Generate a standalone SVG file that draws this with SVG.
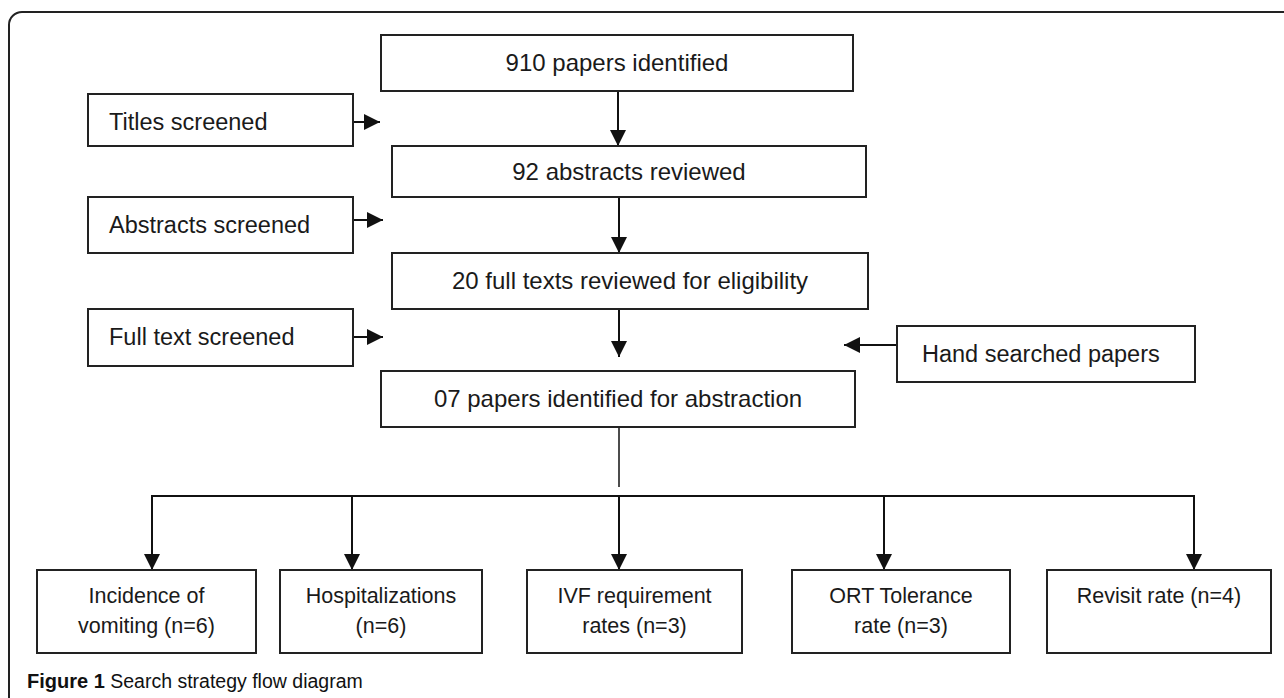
<svg xmlns="http://www.w3.org/2000/svg" width="1284" height="698" viewBox="0 0 1284 698">
<style>
.box{fill:#fff;stroke:#222;stroke-width:2}
.t{font-family:"Liberation Sans",Arial,sans-serif;fill:#1a1a1a}
.c{text-anchor:middle}
.ln{stroke:#111;stroke-width:2;fill:none}
.cap{font-family:"Liberation Sans",Arial,sans-serif;fill:#111}
</style>
<defs>
<marker id="ahb" viewBox="0 0 10 10" refX="10" refY="5" markerWidth="16" markerHeight="16" markerUnits="userSpaceOnUse" orient="auto">
<path d="M0,0 L10,5 L0,10 z" fill="#111"/>
</marker>
</defs>
<rect width="1284" height="698" fill="#fff"/>
<path d="M9,698 V25 A13,13 0 0 1 22,12 H1284" fill="none" stroke="#222" stroke-width="2"/>

<g id="connectors">
<line class="ln" x1="618" y1="91" x2="618" y2="146" marker-end="url(#ahb)"/>
<line class="ln" x1="619" y1="197" x2="619" y2="253" marker-end="url(#ahb)"/>
<line class="ln" x1="619" y1="309" x2="619" y2="357" marker-end="url(#ahb)"/>
<line class="ln" x1="353" y1="122" x2="380" y2="122" marker-end="url(#ahb)"/>
<line class="ln" x1="353" y1="220" x2="383" y2="220" marker-end="url(#ahb)"/>
<line class="ln" x1="353" y1="337" x2="383" y2="337" marker-end="url(#ahb)"/>
<line class="ln" x1="897" y1="345" x2="844" y2="345" marker-end="url(#ahb)"/>
<line x1="619" y1="427" x2="619" y2="487" stroke="#111" stroke-width="1.5"/>
<polyline class="ln" points="152,570 152,496 1194,496 1194,570" marker-end="url(#ahb)"/>
<line class="ln" x1="152" y1="496" x2="152" y2="570" marker-end="url(#ahb)"/>
<line class="ln" x1="352" y1="496" x2="352" y2="570" marker-end="url(#ahb)"/>
<line class="ln" x1="619" y1="496" x2="619" y2="570" marker-end="url(#ahb)"/>
<line class="ln" x1="884" y1="496" x2="884" y2="570" marker-end="url(#ahb)"/>
</g>

<g id="n910">
<rect class="box" x="381" y="35" width="472" height="56"/>
<text class="t c" x="617" y="71" font-size="24">910 papers identified</text>
</g>
<g id="n92">
<rect class="box" x="392" y="146" width="474" height="51"/>
<text class="t c" x="629" y="180" font-size="24">92 abstracts reviewed</text>
</g>
<g id="n20">
<rect class="box" x="392" y="253" width="476" height="56"/>
<text class="t c" x="630" y="289" font-size="24">20 full texts reviewed for eligibility</text>
</g>
<g id="n07">
<rect class="box" x="381" y="371" width="474" height="56"/>
<text class="t c" x="618" y="407" font-size="24">07 papers identified for abstraction</text>
</g>
<g id="titles">
<rect class="box" x="88" y="94" width="265" height="52"/>
<text class="t" x="109" y="130" font-size="23.5">Titles screened</text>
</g>
<g id="abstracts">
<rect class="box" x="88" y="197" width="265" height="56"/>
<text class="t" x="109" y="233" font-size="23.5">Abstracts screened</text>
</g>
<g id="fulltext">
<rect class="box" x="88" y="309" width="265" height="57"/>
<text class="t" x="109" y="345" font-size="23.5">Full text screened</text>
</g>
<g id="hand">
<rect class="box" x="897" y="326" width="298" height="56"/>
<text class="t" x="922" y="362" font-size="23.5">Hand searched papers</text>
</g>
<g id="vomiting">
<rect class="box" x="37" y="570" width="219" height="83"/>
<text class="t c" x="146.5" y="603" font-size="21.5">Incidence of</text>
<text class="t c" x="146.5" y="633" font-size="21.5">vomiting (n=6)</text>
</g>
<g id="hosp">
<rect class="box" x="280" y="570" width="202" height="83"/>
<text class="t c" x="381" y="603" font-size="21.5">Hospitalizations</text>
<text class="t c" x="381" y="633" font-size="21.5">(n=6)</text>
</g>
<g id="ivf">
<rect class="box" x="527" y="570" width="215" height="83"/>
<text class="t c" x="634.5" y="603" font-size="21.5">IVF requirement</text>
<text class="t c" x="634.5" y="633" font-size="21.5">rates (n=3)</text>
</g>
<g id="ort">
<rect class="box" x="792" y="570" width="218" height="83"/>
<text class="t c" x="901" y="603" font-size="21.5">ORT Tolerance</text>
<text class="t c" x="901" y="633" font-size="21.5">rate (n=3)</text>
</g>
<g id="revisit">
<rect class="box" x="1047" y="570" width="224" height="83"/>
<text class="t c" x="1159" y="603" font-size="21.5">Revisit rate (n=4)</text>
</g>
<text class="cap" x="27" y="688" font-size="20"><tspan font-weight="bold">Figure 1</tspan><tspan font-size="19.5"> Search strategy flow diagram</tspan></text>
</svg>
